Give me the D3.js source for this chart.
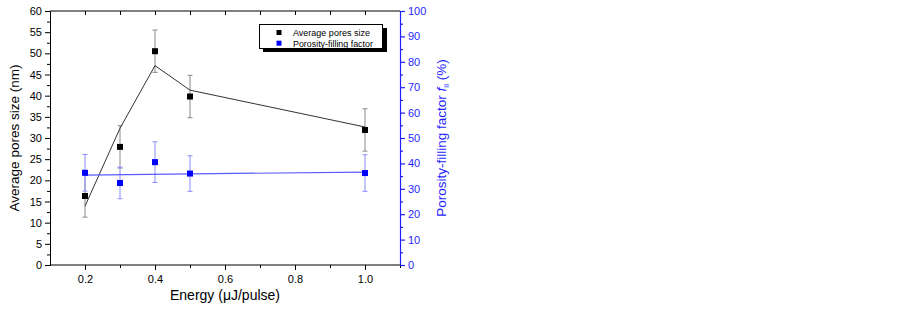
<!DOCTYPE html>
<html><head><meta charset="utf-8">
<script src="https://cdn.jsdelivr.net/npm/d3@7"></script>
<style>body{margin:0;background:#fff;}svg{display:block;font-family:"Liberation Sans",Arial,sans-serif;}</style>
</head><body>
<svg id="c" width="902" height="311"></svg>
<script>
const energy = [0.2, 0.3, 0.4, 0.5, 1.0];
const poreSize = [16.3, 27.9, 50.5, 39.8, 31.9];
const poreErr = [5.0, 5.0, 5.0, 5.0, 5.0];
const poreFit = [13.9, 32.3, 47.1, 41.3, 32.6];
const fillFactor = [36.3, 32.3, 40.5, 36.0, 36.2];
const fillErr = [7.2, 6.2, 8.0, 7.0, 7.2];
const fillFitX = [0.2, 1.0];
const fillFit = [35.4, 36.6];
const xTicks = [0.2, 0.4, 0.6, 0.8, 1.0];
const legendLabels = ["Average pores size", "Porosity-filling factor"];

const svg = d3.select("#c");
const L = 50, R = 400, T = 11, B = 265;
const x = d3.scaleLinear().domain([0.1, 1.1]).range([L, R]);
const yL = d3.scaleLinear().domain([0, 60]).range([B, T]);
const yR = d3.scaleLinear().domain([0, 100]).range([B, T]);
const blue = "#0000ff", axBlue = "#1f1fff";

// frame top
svg.append("line").attr("x1", L).attr("x2", R).attr("y1", T).attr("y2", T).attr("stroke", "#000");
// top ticks inward
svg.append("g").attr("transform", `translate(0,${T})`)
  .call(d3.axisTop(x).tickValues(d3.range(0.2, 1.05, 0.1)).tickSize(-4).tickFormat(""))
  .call(g => g.select(".domain").remove());

// bottom axis
const gx = svg.append("g").attr("transform", `translate(0,${B})`);
gx.call(d3.axisBottom(x).tickValues(xTicks).tickSize(5).tickPadding(5).tickFormat(d3.format(".1f")));
gx.append("g").call(d3.axisBottom(x).tickValues([0.3,0.5,0.7,0.9,1.1]).tickSize(3).tickFormat(""))
  .call(g => g.select(".domain").remove());
gx.selectAll("text").attr("font-size", 11).attr("fill", "#000").attr("font-family", "Liberation Sans, Arial");
gx.selectAll(".domain").attr("d", `M${L},0H${R}`);

// left axis
const gy = svg.append("g").attr("transform", `translate(${L},0)`);
gy.call(d3.axisLeft(yL).tickValues(d3.range(0, 61, 5)).tickSize(5).tickPadding(3));
gy.append("g").call(d3.axisLeft(yL).tickValues(d3.range(2.5, 60, 5)).tickSize(3).tickFormat(""))
  .call(g => g.select(".domain").remove());
gy.selectAll("text").attr("font-size", 11).attr("fill", "#000").attr("font-family", "Liberation Sans, Arial");

// right axis
const gr = svg.append("g").attr("transform", `translate(${R},0)`);
gr.call(d3.axisRight(yR).tickValues(d3.range(0, 101, 10)).tickSize(5).tickPadding(3));
gr.append("g").call(d3.axisRight(yR).tickValues(d3.range(5, 100, 10)).tickSize(3).tickFormat(""))
  .call(g => g.select(".domain").remove());
gr.selectAll("path,line").attr("stroke", axBlue).attr("stroke-width", 1.2);
gr.selectAll("text").attr("font-size", 11).attr("fill", axBlue).attr("font-family", "Liberation Sans, Arial");

// titles
svg.append("text").attr("transform", "translate(19,138) rotate(-90)").attr("text-anchor", "middle")
  .attr("font-size", 13.5).text("Average pores size (nm)");
const rt = svg.append("text").attr("transform", "translate(446,138) rotate(-90)").attr("text-anchor", "middle")
  .attr("font-size", 13.5).attr("fill", axBlue);
rt.append("tspan").text("Porosity-filling factor ");
rt.append("tspan").attr("font-style", "italic").text("f");
rt.append("tspan").attr("font-size", 8).attr("dy", 3).text("ll");
rt.append("tspan").attr("dy", -3).text(" (%)");
svg.append("text").attr("x", 225).attr("y", 300).attr("text-anchor", "middle").attr("font-size", 14)
  .text("Energy (\u03bcJ/pulse)");

// error bars
function errBars(xs, ys, es, sc, col) {
  const g = svg.append("g").attr("stroke", col).attr("stroke-width", 1);
  xs.forEach((v, i) => {
    const cx = x(v), y1 = sc(ys[i] + es[i]), y2 = sc(ys[i] - es[i]);
    g.append("line").attr("x1", cx).attr("x2", cx).attr("y1", y1).attr("y2", y2);
    g.append("line").attr("x1", cx - 2.5).attr("x2", cx + 2.5).attr("y1", y1).attr("y2", y1);
    g.append("line").attr("x1", cx - 2.5).attr("x2", cx + 2.5).attr("y1", y2).attr("y2", y2);
  });
}
errBars(energy, poreSize, poreErr, yL, "#8a8a8a");
errBars(energy, fillFactor, fillErr, yR, "#8c8cff");

// fit lines
svg.append("path").datum(energy.map((e, i) => [e, poreFit[i]]))
  .attr("d", d3.line().x(d => x(d[0])).y(d => yL(d[1])))
  .attr("fill", "none").attr("stroke", "#333").attr("stroke-width", 1);
svg.append("path").datum(fillFitX.map((e, i) => [e, fillFit[i]]))
  .attr("d", d3.line().x(d => x(d[0])).y(d => yR(d[1])))
  .attr("fill", "none").attr("stroke", "#5a5aff").attr("stroke-width", 1.2);

// markers
const s = 6;
svg.append("g").selectAll("rect").data(energy).join("rect")
  .attr("x", d => x(d) - s/2).attr("y", (d, i) => yL(poreSize[i]) - s/2)
  .attr("width", s).attr("height", s).attr("fill", "#000");
svg.append("g").selectAll("rect").data(energy).join("rect")
  .attr("x", d => x(d) - s/2).attr("y", (d, i) => yR(fillFactor[i]) - s/2)
  .attr("width", s).attr("height", s).attr("fill", blue);

// legend
const lg = svg.append("g");
lg.append("rect").attr("x", 263).attr("y", 28).attr("width", 124).attr("height", 24).attr("fill", "#000");
lg.append("rect").attr("x", 259.5).attr("y", 24.5).attr("width", 123).attr("height", 24).attr("fill", "#fff").attr("stroke", "#000");
const lcols = ["#000", blue];
const lLens = [77, 80];
legendLabels.forEach((t, i) => {
  const yy = 32.5 + i * 10.7;
  lg.append("rect").attr("x", 276.5).attr("y", yy - 2.5).attr("width", 5).attr("height", 5).attr("fill", lcols[i]);
  const tx = lg.append("text").attr("x", 0).attr("y", 0).attr("font-size", 9.5).text(t);
  const w = tx.node().getComputedTextLength() || lLens[i];
  tx.attr("transform", `translate(293,${yy + 3.3}) scale(${lLens[i] / w},1)`);
});
</script>
</body></html>
